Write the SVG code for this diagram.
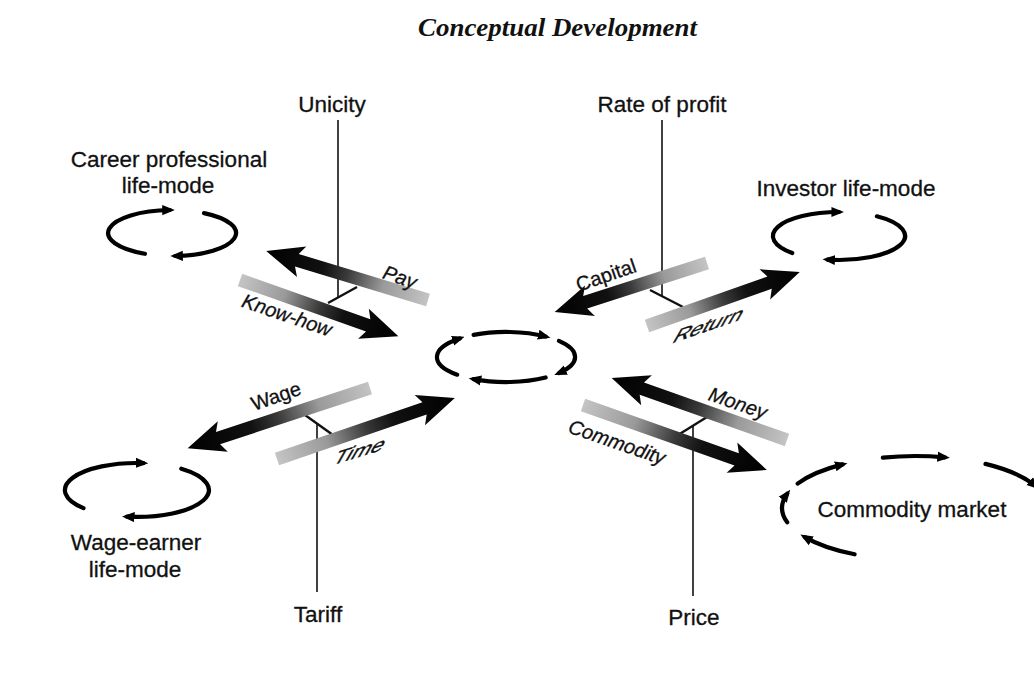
<svg xmlns="http://www.w3.org/2000/svg" width="1034" height="691" viewBox="0 0 1034 691">
  <defs>
    <style>
      .lbl { font-family: "Liberation Sans", Arial, sans-serif; font-size: 22.5px; fill: #111; stroke: #111; stroke-width: 0.3; }
      .bar-lbl { font-family: "Liberation Sans", Arial, sans-serif; font-size: 20px; fill: #111; text-anchor: middle; stroke: #111; stroke-width: 0.3; }
      .flat { font-size: 24px; stroke-width: 0.5; }
      .it { font-style: italic; }
      .title { font-family: "Liberation Serif", "Times New Roman", serif; font-style: italic; font-weight: bold; font-size: 26px; fill: #111; }
      .cycle { fill: none; stroke: #000; stroke-width: 4.2; stroke-linecap: round; marker-end: url(#tip); }
      .axis { stroke: #111; stroke-width: 1.6; fill: none; }
      .link { stroke: #111; stroke-width: 2.4; fill: none; }
      .flow { fill: url(#fade); }
    </style>
    <!-- flow bars: pale grey at the tail, solid black at the arrow tip -->
    <linearGradient id="fade" x1="0" y1="0" x2="1" y2="0">
      <stop offset="0" stop-color="#c4c4c4"/>
      <stop offset="0.28" stop-color="#9a9a9a"/>
      <stop offset="0.5" stop-color="#3a3a3a"/>
      <stop offset="0.65" stop-color="#111"/>
      <stop offset="1" stop-color="#000"/>
    </linearGradient>
    <marker id="tip" viewBox="0 0 10 10" refX="6" refY="5" markerWidth="3" markerHeight="3" orient="auto">
      <path d="M0,1 L10,5 L0,9 z" fill="#000"/>
    </marker>
  </defs>

  <rect width="1034" height="691" fill="#fff"/>

  <text class="title" x="418" y="36" textLength="279" lengthAdjust="spacingAndGlyphs">Conceptual Development</text>

  <!-- exchange bars, axes and cross links -->
  <g id="connectors">
    <!-- vertical axes -->
    <line class="axis" x1="338" y1="120" x2="338" y2="297"/>
    <line class="axis" x1="662" y1="120" x2="662" y2="296"/>
    <line class="axis" x1="317" y1="424" x2="317" y2="592"/>
    <line class="axis" x1="693" y1="426" x2="693" y2="596"/>
    <!-- cross links between paired bars -->
    <line class="link" x1="357" y1="287" x2="328" y2="303"/>
    <line class="link" x1="650" y1="290" x2="683" y2="307"/>
    <line class="link" x1="305" y1="415" x2="333" y2="435"/>
    <line class="link" x1="707" y1="417" x2="678" y2="435"/>

    <!-- Pay -->
    <g transform="translate(428,300) rotate(-163.17)">
      <path class="flow" d="M0,-6.5 L137,-6.5 L132,-16 L169,0 L132,16 L137,6.5 L0,6.5 z"/>
    </g>
    <!-- Know-how -->
    <g transform="translate(240,280) rotate(19.52)">
      <path class="flow" d="M0,-6.5 L136,-6.5 L131,-16 L168,0 L131,16 L136,6.5 L0,6.5 z"/>
    </g>
    <!-- Capital -->
    <g transform="translate(707,263) rotate(162.13)">
      <path class="flow" d="M0,-6.5 L128,-6.5 L123,-16 L160,0 L123,16 L128,6.5 L0,6.5 z"/>
    </g>
    <!-- Return -->
    <g transform="translate(647,326) rotate(-19.44)">
      <path class="flow" d="M0,-6.5 L130,-6.5 L125,-16 L162,0 L125,16 L130,6.5 L0,6.5 z"/>
    </g>
    <!-- Wage -->
    <g transform="translate(370,388) rotate(161.75)">
      <path class="flow" d="M0,-6.5 L160,-6.5 L155,-16 L192,0 L155,16 L160,6.5 L0,6.5 z"/>
    </g>
    <!-- Time -->
    <g transform="translate(277,459) rotate(-18.92)">
      <path class="flow" d="M0,-6.5 L156,-6.5 L151,-16 L188,0 L151,16 L156,6.5 L0,6.5 z"/>
    </g>
    <!-- Money -->
    <g transform="translate(787,440) rotate(-160.5)">
      <path class="flow" d="M0,-6.5 L154,-6.5 L149,-16 L186,0 L149,16 L154,6.5 L0,6.5 z"/>
    </g>
    <!-- Commodity -->
    <g transform="translate(583,405) rotate(19.46)">
      <path class="flow" d="M0,-6.5 L163,-6.5 L158,-16 L195,0 L158,16 L163,6.5 L0,6.5 z"/>
    </g>

    <!-- bar labels -->
    <text class="bar-lbl it" transform="translate(400,277) rotate(19)" y="7">Pay</text>
    <text class="bar-lbl it" transform="translate(287,315) rotate(19)" y="7">Know-how</text>
    <text class="bar-lbl" transform="translate(606,275) rotate(-19)" y="7">Capital</text>
    <text class="bar-lbl flat" transform="matrix(0.946,-0.326,-0.5,0.866,709,325)" y="8">Return</text>
    <text class="bar-lbl" transform="translate(276,396) rotate(-19)" y="7">Wage</text>
    <text class="bar-lbl flat" transform="matrix(0.956,-0.292,-0.5,0.866,360,451)" y="8">Time</text>
    <text class="bar-lbl it" transform="translate(738,403) rotate(19)" y="7">Money</text>
    <text class="bar-lbl it" transform="translate(617,442) rotate(19)" y="7">Commodity</text>
  </g>

  <!-- axis end labels -->
  <g id="unicity"><text class="lbl" x="332" y="112" text-anchor="middle">Unicity</text></g>
  <g id="rate-of-profit"><text class="lbl" x="662" y="112" text-anchor="middle">Rate of profit</text></g>
  <g id="tariff"><text class="lbl" x="318" y="622" text-anchor="middle">Tariff</text></g>
  <g id="price"><text class="lbl" x="694" y="625" text-anchor="middle">Price</text></g>

  <!-- life-mode cycles -->
  <g id="career-professional">
    <text class="lbl" x="169" y="167" text-anchor="middle">Career professional</text>
    <text class="lbl" x="168" y="193" text-anchor="middle">life-mode</text>
    <path class="cycle" d="M144.9,253.8 A64,23 0 0 1 169.8,210"/>
    <path class="cycle" d="M204,213.1 A64,23 0 0 1 175.3,256"/>
  </g>

  <g id="investor">
    <text class="lbl" x="846" y="196" text-anchor="middle">Investor life-mode</text>
    <path class="cycle" d="M792.3,253 A66,24 0 0 1 839,212"/>
    <path class="cycle" d="M876.9,216.3 A66,24 0 0 1 827.5,259.6"/>
  </g>

  <g id="wage-earner">
    <path class="cycle" d="M83.5,508.1 A72,27 0 0 1 143.3,463.1"/>
    <path class="cycle" d="M181.3,468.7 A72,27 0 0 1 127,516.7"/>
    <text class="lbl" x="136" y="550" text-anchor="middle">Wage-earner</text>
    <text class="lbl" x="135" y="577" text-anchor="middle">life-mode</text>
  </g>

  <!-- central exchange cycle -->
  <g id="centre">
    <path class="cycle" d="M473.6,334.9 A69,25 0 0 1 545.6,336.5"/>
    <path class="cycle" d="M558.9,340.9 A69,25 0 0 1 558.9,373.1"/>
    <path class="cycle" d="M545.6,377.5 A69,25 0 0 1 473.6,379.1"/>
    <path class="cycle" d="M457.2,374.7 A69,25 0 0 1 459.8,338.4"/>
  </g>

  <!-- commodity market cycle -->
  <g id="commodity-market">
    <path class="cycle" d="M854.6,554.3 A133,52 0 0 1 804.7,537.1"/>
    <path class="cycle" d="M787.2,522.3 A133,52 0 0 1 787.2,493.7"/>
    <path class="cycle" d="M797.6,483.6 A133,52 0 0 1 842.6,464.4"/>
    <path class="cycle" d="M882.8,457.6 A133,52 0 0 1 944.9,457.3"/>
    <path class="cycle" d="M985.5,463.9 A133,52 0 0 1 1035.5,486"/>
    <text class="lbl" x="912" y="517" text-anchor="middle">Commodity market</text>
  </g>
</svg>
